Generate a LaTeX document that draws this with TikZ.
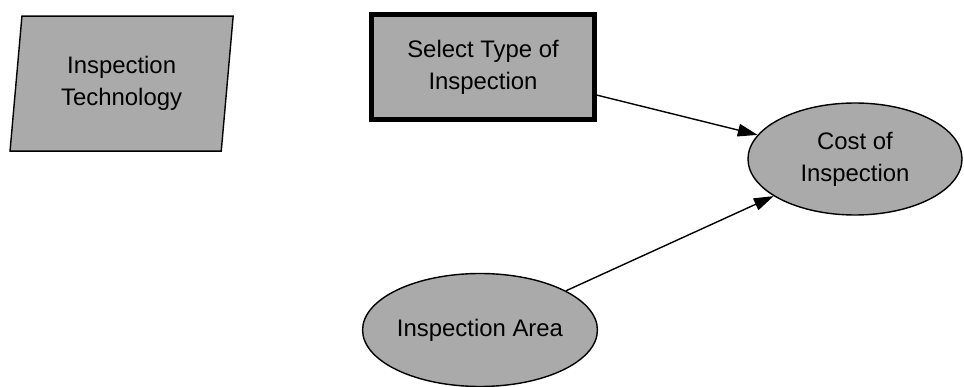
\documentclass[tikz,border=0pt]{standalone}
\usepackage{fontspec}
\setmainfont{Liberation Sans}
\usetikzlibrary{arrows.meta,positioning,shapes.geometric}
\definecolor{boxgray}{RGB}{170,170,170}

\begin{document}
\begin{tikzpicture}[
        every node/.style={font=\fontsize{17}{22.7}\selectfont, align=center, inner sep=0pt},
        chance/.style={ellipse, draw, fill=boxgray, line width=1pt, minimum width=5.35cm, minimum height=2.8cm},
        decision/.style={rectangle, draw, fill=boxgray, line width=3.5pt, minimum width=5.575cm, minimum height=2.625cm},
        source/.style={trapezium, trapezium left angle=82.4, trapezium right angle=97.6, trapezium stretches=true,
                       draw, fill=boxgray, line width=1pt, minimum width=5.625cm, minimum height=3.375cm},
        link/.style={-{Triangle[length=14pt,width=9pt]}, line width=1pt}
    ]
    \useasboundingbox (0,0) rectangle (24.1,-9.675);

    % Nodes
    \node[source] (tech) at (3.04,-2.09) {Inspection\\Technology};
    \node[decision] (select) at (12.075,-1.675) {Select Type of\\Inspection};
    \node[chance] (cost) at (21.375,-3.975) {Cost of\\Inspection};
    \node[chance, minimum width=5.725cm, minimum height=2.825cm] (area) at (12.0,-8.25) {Inspection Area};

    % Influences
    \draw[link] (select) -- (cost);
    \draw[link] (area) -- (cost);
\end{tikzpicture}
\end{document}
